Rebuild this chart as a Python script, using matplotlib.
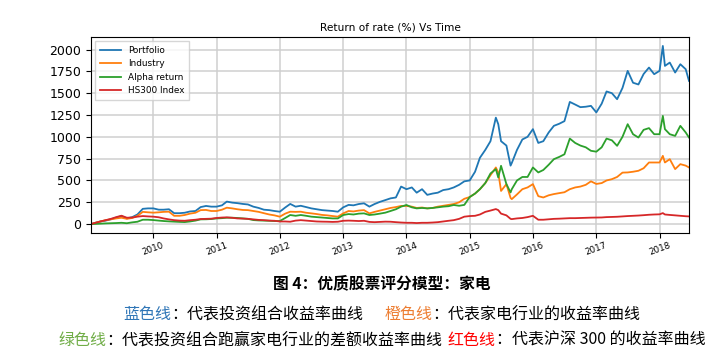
import matplotlib
matplotlib.use("Agg")
import matplotlib.pyplot as plt
import matplotlib.dates as mdates
import pandas as pd

dates = [
    "2009-01-06", "2009-02-01", "2009-03-01", "2009-04-01", "2009-05-01", "2009-06-01",
    "2009-07-01", "2009-08-01", "2009-09-01", "2009-10-01", "2009-11-01", "2009-12-01",
    "2010-01-01", "2010-02-01", "2010-03-01", "2010-04-01", "2010-05-01", "2010-06-01",
    "2010-07-01", "2010-08-01", "2010-09-01", "2010-10-01", "2010-11-01", "2010-12-01",
    "2011-01-01", "2011-02-01", "2011-03-01", "2011-04-01", "2011-05-01", "2011-06-01",
    "2011-07-01", "2011-08-01", "2011-09-01", "2011-10-01", "2011-11-01", "2011-12-01",
    "2012-01-01", "2012-02-01", "2012-03-01", "2012-04-01", "2012-05-01", "2012-06-01",
    "2012-07-01", "2012-08-01", "2012-09-01", "2012-10-01", "2012-11-01", "2012-12-01",
    "2013-01-01", "2013-02-01", "2013-03-01", "2013-04-01", "2013-05-01", "2013-06-01",
    "2013-07-01", "2013-08-01", "2013-09-01", "2013-10-01", "2013-11-01", "2013-12-01",
    "2014-01-01", "2014-02-01", "2014-03-01", "2014-04-01", "2014-05-01", "2014-06-01",
    "2014-07-01", "2014-08-01", "2014-09-01", "2014-10-01", "2014-11-01", "2014-12-01",
    "2015-01-01", "2015-02-01", "2015-03-01", "2015-04-01", "2015-05-01", "2015-06-01",
    "2015-06-15", "2015-07-01", "2015-08-01", "2015-08-25", "2015-09-01", "2015-10-01",
    "2015-11-01", "2015-12-01",
    "2016-01-01", "2016-02-01", "2016-03-01", "2016-04-01", "2016-05-01", "2016-06-01",
    "2016-07-01", "2016-08-01", "2016-09-01", "2016-10-01", "2016-11-01", "2016-12-01",
    "2017-01-01", "2017-02-01", "2017-03-01", "2017-04-01", "2017-05-01", "2017-06-01",
    "2017-07-01", "2017-08-01", "2017-09-01", "2017-10-01", "2017-11-01", "2017-12-01",
    "2018-01-01", "2018-01-20", "2018-02-01", "2018-03-01", "2018-04-01", "2018-05-01",
    "2018-06-01", "2018-06-20",
]

portfolio = [
    0, 15, 30, 40, 55, 75, 92, 65, 80, 110, 175, 180,
    180, 165, 165, 170, 125, 125, 130, 145, 150, 195, 208, 200,
    200, 215, 258, 246, 240, 231, 225, 200, 185, 165, 160, 150,
    142, 190, 231, 200, 210, 195, 180, 170, 160, 155, 150, 142,
    192, 220, 215, 230, 238, 200, 230, 255, 275, 295, 305, 430,
    400, 420, 360, 400, 335, 350, 360, 390, 400, 420, 450, 490,
    500, 600, 760, 850, 950, 1220, 1145, 950, 900, 670, 700, 850,
    970, 1000,
    1088, 930, 950, 1050, 1126, 1150, 1180, 1400, 1370, 1340, 1345, 1355,
    1280, 1380, 1520, 1500, 1431, 1560, 1756, 1620, 1600, 1720, 1794, 1718,
    1756, 2042, 1813, 1851, 1737, 1832, 1775, 1641,
]

industry = [
    0, 15, 30, 45, 55, 65, 73, 60, 70, 95, 140, 135,
    131, 135, 140, 142, 95, 95, 104, 120, 130, 160, 162, 150,
    150, 165, 188, 180, 170, 162, 160, 150, 140, 125, 110, 100,
    85, 120, 142, 140, 142, 130, 123, 115, 105, 100, 92, 85,
    123, 150, 145, 155, 160, 123, 140, 155, 170, 185, 195, 208,
    208, 200, 185, 190, 180, 185, 200, 210, 220, 230, 250, 290,
    310, 350, 400, 470, 560, 649, 592, 380, 458, 300, 286, 340,
    400, 420,
    458, 320, 305, 330, 344, 355, 365, 400, 420, 430, 450, 490,
    460, 470, 500, 515, 540, 590, 592, 600, 611, 640, 706, 706,
    706, 782, 706, 744, 630, 687, 670, 649,
]

alpha_return = [
    0, 2, 5, 8, 10, 12, 15, 10, 20, 27, 50, 50,
    46, 40, 35, 31, 28, 25, 23, 30, 40, 54, 55, 58,
    65, 68, 73, 73, 70, 65, 60, 46, 42, 40, 38, 35,
    35, 70, 104, 95, 104, 95, 85, 80, 75, 70, 65, 65,
    104, 115, 110, 120, 123, 104, 110, 120, 131, 150, 170, 200,
    219, 192, 180, 185, 180, 185, 192, 200, 205, 219, 210, 220,
    310, 350, 400, 470, 580, 630, 534, 668, 458, 363, 400, 500,
    540, 540,
    649, 592, 620, 680, 744, 770, 800, 980, 930, 900, 880, 840,
    830, 880, 980, 960, 897, 1000, 1145, 1030, 992, 1080, 1100, 1030,
    1030, 1240, 1088, 1030, 1011, 1126, 1050, 992,
]

hs300 = [
    0, 15, 30, 45, 60, 80, 96, 73, 75, 85, 92, 88,
    85, 78, 65, 54, 45, 40, 38, 45, 50, 58, 60, 62,
    70, 75, 77, 72, 65, 63, 60, 54, 48, 45, 40, 38,
    30, 30, 27, 40, 45, 40, 35, 30, 28, 27, 25, 27,
    38, 40, 38, 35, 38, 25, 22, 25, 28, 27, 22, 18,
    15, 15, 12, 15, 15, 18, 22, 30, 38, 45, 60, 85,
    92, 95, 110, 140, 155, 172, 160, 120, 100, 60, 57, 65,
    70, 80,
    95, 50, 50, 55, 60, 62, 65, 68, 68, 70, 72, 74,
    75, 76, 80, 82, 84, 88, 92, 95, 98, 102, 107, 110,
    112, 126, 110, 105, 100, 95, 90, 88,
]

series_labels = ["Portfolio", "Industry", "Alpha return", "HS300 Index"]
series_colors = ["#1f77b4", "#ff7f0e", "#2ca02c", "#d62728"]
y_ticks = [0, 250, 500, 750, 1000, 1250, 1500, 1750, 2000]

title = "Return of rate (%) Vs Time"
caption = "图 4：优质股票评分模型：家电"
line1 = [("蓝色线", "#2e75b6", 0.0), ("：代表投资组合收益率曲线", "#000000", 1.3),
         ("橙色线", "#ed7d31", 0.0), ("：代表家电行业的收益率曲线", "#000000", 0.0)]
line2 = [("绿色线", "#70ad47", 0.0), ("：代表投资组合跑赢家电行业的差额收益率曲线", "#000000", 0.35),
         ("红色线", "#ff0000", 0.0), ("：代表沪深 300 的收益率曲线", "#000000", 0.0)]

CJK = ["Noto Sans CJK SC", "DejaVu Sans"]

df = pd.DataFrame({
    "date": pd.to_datetime(dates),
    "Portfolio": portfolio,
    "Industry": industry,
    "Alpha return": alpha_return,
    "HS300 Index": hs300,
})

W, H = 720, 359
fig = plt.figure(figsize=(W / 100, H / 100), dpi=100)
ax = fig.add_axes([91 / W, 1 - 233 / H, (689 - 91) / W, (233 - 37) / H])

for lab, col in zip(series_labels, series_colors):
    ax.plot(df["date"], df[lab], color=col, lw=1.3, label=lab)

ax.set_xlim(df["date"].iloc[0], df["date"].iloc[-1])
ax.margins(x=0, y=0.05)
ax.set_yticks(y_ticks)
ax.xaxis.set_major_locator(mdates.YearLocator())
ax.xaxis.set_major_formatter(mdates.DateFormatter("%Y"))
ax.grid(True, color="#cfcfcf", lw=1.1)
ax.set_axisbelow(True)
ax.tick_params(axis="y", labelsize=9, length=3.5)
ax.tick_params(axis="x", labelsize=6.3, length=3.5, pad=2)
for lbl in ax.get_xticklabels():
    lbl.set_rotation(20)
    lbl.set_ha("center")
ax.set_title(title, fontsize=7.6, pad=5)
leg = ax.legend(loc="upper left", fontsize=6.4, frameon=True, handlelength=2.4,
                labelspacing=0.5, borderpad=0.5, fancybox=False)
leg.get_frame().set_edgecolor("#cccccc")

fig.text(382 / W, 1 - 283 / H, caption, fontsize=11.3, fontweight="bold",
         family=CJK, ha="center", va="center")

renderer = fig.canvas.get_renderer()


def draw_pieces(pieces, xc_px, yc_px, size):
    em = size * 100 / 72.0
    objs = []
    total = 0.0
    for s, c, gap in pieces:
        t = fig.text(0, 1 - yc_px / H, s, color=c, fontsize=size, family=CJK,
                     ha="left", va="center")
        w = t.get_window_extent(renderer).width
        objs.append((t, w, gap * em))
        total += w + gap * em
    x = xc_px - total / 2
    for t, w, g in objs:
        t.set_x(x / W)
        x += w + g


draw_pieces(line1, 382, 315, 11.5)
draw_pieces(line2, 382, 340, 11.5)

fig.savefig("out.png", dpi=100)
